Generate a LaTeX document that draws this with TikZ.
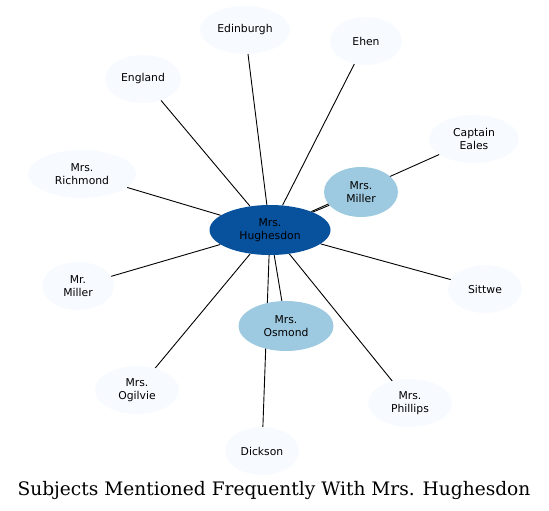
\documentclass[tikz,border=0pt]{standalone}
\usepackage{fontspec}
\setmainfont{DejaVu Serif}
\newfontfamily\nodefont{DejaVu Sans}
\usetikzlibrary{shapes.geometric,backgrounds}
\definecolor{HBdark}{HTML}{08519C}
\definecolor{HBmid}{HTML}{9ECAE1}
\definecolor{HBpale}{HTML}{F7FBFF}
\tikzset{
  subj/.style={ellipse,fill=HBpale,draw=none,inner sep=0pt,align=center,
               font=\nodefont\fontsize{10.8}{12.6}\selectfont,text=black,
               minimum height=48pt,minimum width=74pt},
  near/.style={subj,fill=HBmid,minimum height=50pt},
  hubnode/.style={subj,fill=HBdark,minimum height=50pt,minimum width=121pt},
  ln/.style={draw=black,line width=0.9pt}
}
\begin{document}
\begin{tikzpicture}[x=1pt,y=-1pt]
  \useasboundingbox (0,0) rectangle (549,511);
  \node[hubnode] (hub) at (270,230) {Mrs.\\Hughesdon};
  \node[subj,minimum width=90pt] (edin) at (245,30) {Edinburgh};
  \node[subj,minimum width=72pt] (ehen) at (366,41) {Ehen};
  \node[subj,minimum width=76pt] (engl) at (143,79) {England};
  \node[subj,minimum width=90pt] (eales) at (474,139) {Captain\\Eales};
  \node[subj,minimum width=108pt] (richm) at (82,174) {Mrs.\\Richmond};
  \node[near,minimum width=74pt] (mrsmil) at (361,192) {Mrs.\\Miller};
  \node[subj,minimum width=72pt] (mrmil) at (78,286) {Mr.\\Miller};
  \node[subj,minimum width=74pt] (sitt) at (485,289) {Sittwe};
  \node[near,minimum width=95pt] (osmd) at (286,326) {Mrs.\\Osmond};
  \node[subj,minimum width=84pt] (ogil) at (137,390) {Mrs.\\Ogilvie};
  \node[subj,minimum width=84pt] (phil) at (410,403) {Mrs.\\Phillips};
  \node[subj,minimum width=74pt] (dick) at (262,451) {Dickson};
  \begin{scope}[on background layer]
    \draw[ln] (hub) -- (edin); \draw[ln] (hub) -- (ehen); \draw[ln] (hub) -- (engl);
    \draw[ln] (hub) -- (eales); \draw[ln] (hub) -- (richm); \draw[ln] (hub) -- (mrsmil);
    \draw[ln] (hub) -- (mrmil); \draw[ln] (hub) -- (sitt); \draw[ln] (hub) -- (osmd);
    \draw[ln] (hub) -- (ogil); \draw[ln] (hub) -- (phil); \draw[ln] (hub) -- (dick);
  \end{scope}
  \node[font=\fontsize{18.6}{21}\selectfont] (title) at (274,490) {Subjects Mentioned Frequently With Mrs. Hughesdon};
\end{tikzpicture}
\end{document}
